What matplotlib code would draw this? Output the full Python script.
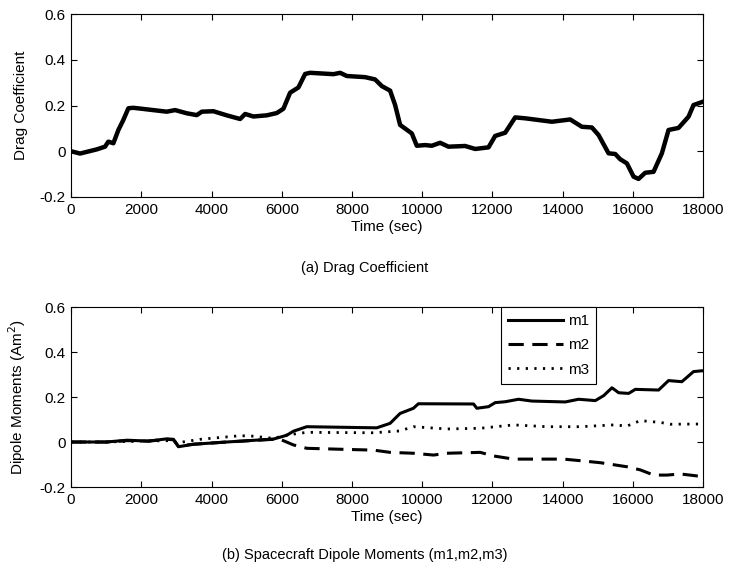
import matplotlib
matplotlib.use("Agg")

import matplotlib.pyplot as plt

plt.rcParams["font.family"] = ["Liberation Sans", "DejaVu Sans"]
plt.rcParams["font.size"] = 11

# (a) drag coefficient
drag_t = [0, 256, 730, 968, 1063, 1206, 1348, 1490, 1633, 1776, 2725, 2963, 3295, 3580,
          3723, 4054, 4434, 4815, 4957, 5194, 5573, 5858, 6048, 6238, 6475, 6665, 6808,
          7472, 7662, 7852, 8373, 8658, 8848, 9085, 9228, 9370, 9703, 9845, 10083, 10273,
          10510, 10747, 11222, 11507, 11887, 12077, 12362, 12647, 12932, 13692, 14213,
          14545, 14830, 15020, 15305, 15495, 15637, 15827, 16017, 16159, 16349, 16586,
          16823, 17013, 17297, 17582, 17724, 18000]
drag_cd = [0.0, -0.01, 0.008, 0.02, 0.042, 0.035, 0.093, 0.137, 0.188, 0.19, 0.173, 0.18,
           0.166, 0.158, 0.173, 0.175, 0.157, 0.141, 0.163, 0.152, 0.157, 0.167, 0.186,
           0.256, 0.279, 0.338, 0.343, 0.337, 0.343, 0.329, 0.324, 0.314, 0.285, 0.265,
           0.202, 0.115, 0.078, 0.024, 0.027, 0.024, 0.037, 0.02, 0.023, 0.01, 0.017,
           0.067, 0.081, 0.148, 0.144, 0.129, 0.139, 0.107, 0.104, 0.071, -0.009, -0.012,
           -0.035, -0.053, -0.111, -0.121, -0.094, -0.09, -0.009, 0.093, 0.102, 0.151,
           0.202, 0.217]

# (b) dipole moments
m1_t = [0, 1000, 1600, 2200, 2726, 2915, 3057, 3484, 4434, 5763, 6143, 6333, 6713, 8705,
        9085, 9370, 9750, 9890, 11460, 11555, 11887, 12077, 12362, 12742, 13122, 14072,
        14452, 14928, 15165, 15402, 15592, 15877, 16067, 16730, 17013, 17393, 17724, 18000]
m1_v = [0.0, 0.0, 0.008, 0.004, 0.014, 0.012, -0.021, -0.01, 0.0, 0.013, 0.03, 0.048,
        0.068, 0.063, 0.083, 0.127, 0.15, 0.17, 0.169, 0.15, 0.157, 0.175, 0.179, 0.19,
        0.182, 0.178, 0.19, 0.184, 0.206, 0.241, 0.219, 0.216, 0.234, 0.231, 0.273, 0.268,
        0.313, 0.317]

m2_t = [0, 1000, 1600, 2200, 2726, 2915, 3057, 3484, 4434, 5763, 5954, 6333, 6713, 7852,
        8611, 9085, 9750, 10320, 10700, 11650, 12030, 12600, 14025, 14500, 15070, 15830,
        16210, 16590, 16970, 17350, 18000]
m2_v = [0.0, 0.0, 0.006, 0.004, 0.012, 0.01, -0.018, -0.01, 0.0, 0.012, 0.012, -0.013,
        -0.028, -0.033, -0.036, -0.046, -0.05, -0.058, -0.05, -0.046, -0.062, -0.076,
        -0.076, -0.083, -0.092, -0.11, -0.124, -0.147, -0.147, -0.142, -0.154]

m3_t = [0, 1000, 2000, 2800, 3057, 3674, 4814, 5194, 5763, 6143, 6713, 8611, 9350, 9750,
        10700, 11650, 12600, 13550, 14500, 15450, 15830, 16210, 16780, 17065, 18000]
m3_v = [0.0, 0.0, 0.004, 0.006, -0.003, 0.012, 0.028, 0.026, 0.016, 0.031, 0.043, 0.041,
        0.049, 0.068, 0.058, 0.061, 0.076, 0.068, 0.068, 0.076, 0.071, 0.095, 0.087,
        0.079, 0.08]

x_ticks = [0, 2000, 4000, 6000, 8000, 10000, 12000, 14000, 16000, 18000]
y_ticks = [-0.2, 0, 0.2, 0.4, 0.6]
y_labels = ["-0.2", "0", "0.2", "0.4", "0.6"]


def style_axes(ax, ylabel):
    ax.set_xlim(0, 18000)
    ax.set_ylim(-0.2, 0.6)
    ax.set_xticks(x_ticks)
    ax.set_xticklabels([str(t) for t in x_ticks])
    ax.set_yticks(y_ticks)
    ax.set_yticklabels(y_labels)
    ax.tick_params(direction="in", top=True, right=True, length=4, width=0.8)
    ax.tick_params(axis="x", pad=4.2)
    ax.tick_params(axis="y", pad=4.0)
    for s in ax.spines.values():
        s.set_linewidth(0.8)
    ax.set_xlabel("Time (sec)", labelpad=2.5)
    ax.set_ylabel(ylabel)
    ax.yaxis.set_label_coords(-0.068, 0.5)


fig = plt.figure(figsize=(7.3, 5.7), dpi=100)

ax1 = fig.add_axes([0.0973, 0.6544, 0.866, 0.321])
ax1.plot(drag_t, drag_cd, color="black", lw=3.2, solid_joinstyle="round")
style_axes(ax1, "Drag Coefficient")

ax2 = fig.add_axes([0.0973, 0.1456, 0.866, 0.3158])
ax2.plot(m1_t, m1_v, color="black", lw=2.2, ls="-", label="m1")
ax2.plot(m2_t, m2_v, color="black", lw=2.2, ls=(0, (5, 2.8)), label="m2")
ax2.plot(m3_t, m3_v, color="black", lw=2.0, ls=(0, (0.8, 2.3)), label="m3")
style_axes(ax2, "Dipole Moments (Am$^2$)")
leg = ax2.legend(loc="upper left", bbox_to_anchor=(0.68, 1.0), fancybox=False,
                 framealpha=1, edgecolor="black", handlelength=3.6,
                 handletextpad=0.35, borderpad=0.45, labelspacing=0.68,
                 borderaxespad=0)
leg.get_frame().set_linewidth(0.8)

fig.text(0.5, 1 - 268 / 570, "(a) Drag Coefficient", ha="center", va="center",
         fontsize=10.5)
fig.text(0.5, 1 - 555 / 570, "(b) Spacecraft Dipole Moments (m1,m2,m3)",
         ha="center", va="center", fontsize=10.5)

fig.savefig("out.png", dpi=100)
